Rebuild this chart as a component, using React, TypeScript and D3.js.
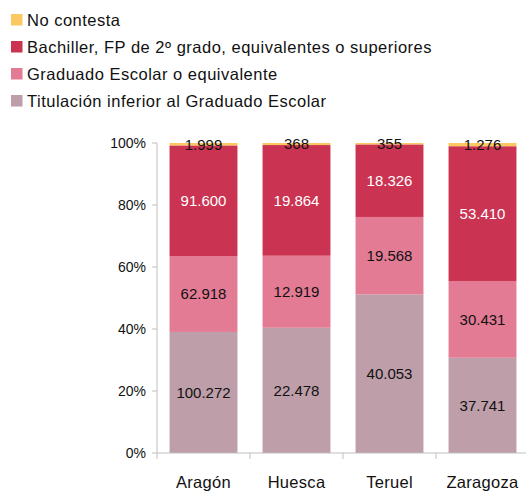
import React from "react";
import * as d3 from "d3";

const categories = ["Aragón", "Huesca", "Teruel", "Zaragoza"];
const seriesNames = [
  "Titulación inferior al Graduado Escolar",
  "Graduado Escolar o equivalente",
  "Bachiller, FP de 2º grado, equivalentes o superiores",
  "No contesta",
];
const inferior = [100272, 22478, 40053, 37741];
const graduado = [62918, 12919, 19568, 30431];
const bachiller = [91600, 19864, 18326, 53410];
const noContesta = [1999, 368, 355, 1276];
const yTicks = [0, 0.2, 0.4, 0.6, 0.8, 1];

const colors = ["#bd9ea9", "#e37b95", "#cb3352", "#fcc862"];
const labelColors = ["#111111", "#111111", "#ffffff", "#111111"];

const W = 526;
const H = 491;
const font = "'Liberation Sans', Arial, sans-serif";

const fmt = (v: number) => d3.format(",")(v).replace(/,/g, ".");

export default function App() {
  const rows = categories.map((c, i) => ({
    cat: c,
    s0: inferior[i],
    s1: graduado[i],
    s2: bachiller[i],
    s3: noContesta[i],
  }));
  const keys = ["s0", "s1", "s2", "s3"];
  const stacked = d3
    .stack<any>()
    .keys(keys)
    .offset(d3.stackOffsetExpand)(rows);

  const x = d3
    .scaleBand()
    .domain(categories)
    .range([157, 529])
    .paddingInner(0.27)
    .paddingOuter(0.135);
  const y = d3.scaleLinear().domain([0, 1]).range([453, 143]);
  const axisColor = "#bfbfbf";

  // legend order: top is No contesta
  const legendOrder = [3, 2, 1, 0];

  return (
    <div style={{ position: "fixed", left: 0, top: 0 }}>
      <svg width={W} height={H} style={{ display: "block", fontFamily: font }}>
        <rect width={W} height={H} fill="#ffffff" />
        {legendOrder.map((si, k) => (
          <g key={si} transform={`translate(0, ${26 + k * 27})`}>
            <rect x={11} y={-12} width={11.5} height={11.5} fill={colors[si]} />
            <text
              x={27}
              y={0}
              fontSize={16.5}
              letterSpacing={0.5}
              fill="#111111"
            >
              {seriesNames[si]}
            </text>
          </g>
        ))}

        {stacked.map((layer, si) => (
          <g key={si}>
            {layer.map((d, i) => (
              <rect
                key={i}
                x={x(categories[i])}
                y={y(d[1])}
                width={x.bandwidth()}
                height={y(d[0]) - y(d[1])}
                fill={colors[si]}
              />
            ))}
          </g>
        ))}

        {/* axes */}
        <line x1={157} x2={157} y1={y(1)} y2={y(0)} stroke={axisColor} />
        {yTicks.map((t) => (
          <g key={t}>
            <line x1={152} x2={157} y1={y(t)} y2={y(t)} stroke={axisColor} />
            <text
              x={146}
              y={y(t)}
              dy="0.35em"
              textAnchor="end"
              fontSize={14}
              fill="#111111"
            >
              {Math.round(t * 100) + "%"}
            </text>
          </g>
        ))}
        <line x1={157} x2={529} y1={y(0)} y2={y(0)} stroke={axisColor} />
        {categories.map((c, i) => (
          <line
            key={c}
            x1={157 + i * x.step()}
            x2={157 + i * x.step()}
            y1={y(0)}
            y2={y(0) + 6}
            stroke={axisColor}
          />
        ))}
        {categories.map((c) => (
          <text
            key={c}
            x={(x(c) as number) + x.bandwidth() / 2}
            y={488}
            textAnchor="middle"
            fontSize={16.5}
            letterSpacing={0.3}
            fill="#111111"
          >
            {c}
          </text>
        ))}

        {/* value labels */}
        {stacked.map((layer, si) => (
          <g key={si}>
            {layer.map((d, i) => (
              <text
                key={i}
                x={(x(categories[i]) as number) + x.bandwidth() / 2}
                y={(y(d[0]) + y(d[1])) / 2}
                dy="0.36em"
                textAnchor="middle"
                fontSize={15}
                fill={labelColors[si]}
              >
                {fmt(d.data[keys[si]])}
              </text>
            ))}
          </g>
        ))}
      </svg>
    </div>
  );
}
